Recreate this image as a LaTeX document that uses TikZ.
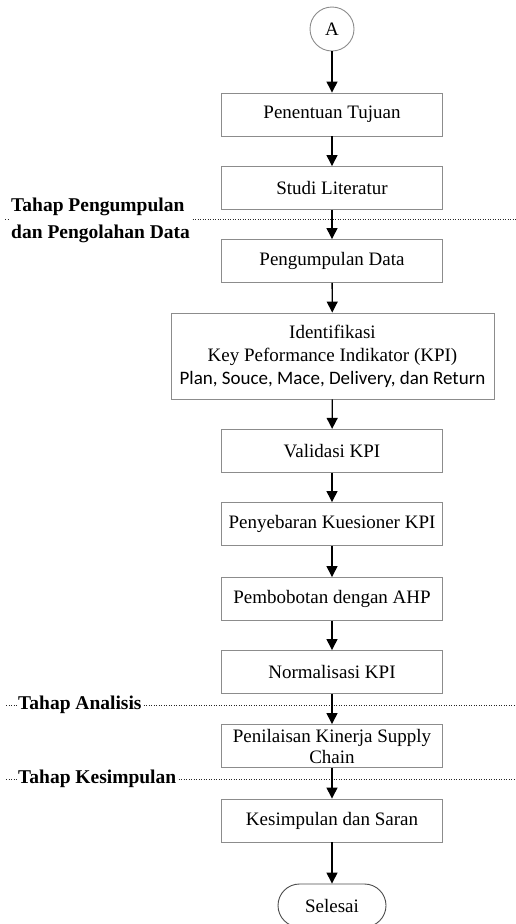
\documentclass[tikz,border=0pt]{standalone}
\usepackage{fontspec}
\setmainfont{Liberation Serif}
\newfontfamily\calib{Carlito}
\usetikzlibrary{arrows.meta,shapes.misc}
\begin{document}
\begin{tikzpicture}[x=1pt,y=-1pt,
  every node/.style={font=\fontsize{19}{21}\selectfont},
  procbox/.style={draw=black!45,line width=0.9pt,minimum width=221pt,minimum height=43pt,align=center,inner sep=2pt},
  flowarrow/.style={line width=1.3pt,-{Triangle[length=11pt,width=11pt]}},
  phaseline/.style={black!85,line width=0.9pt,dash pattern=on 1pt off 1.5pt},
  phaselabel/.style={anchor=west,fill=white,inner sep=1pt,align=left,font=\fontsize{19.5}{27}\selectfont\bfseries}]
\useasboundingbox (0,0) rectangle (516,924);
\clip (0,0) rectangle (516,924);
% phase lines
\coordinate (l1a) at (5,219); \coordinate (l1b) at (516,219);
\coordinate (l2a) at (6,705); \coordinate (l2b) at (516,705);
\coordinate (l3a) at (6,779); \coordinate (l3b) at (516,779);
\draw[phaseline] (l1a) -- (l1b);
\draw[phaseline] (l2a) -- (l2b);
\draw[phaseline] (l3a) -- (l3b);
\node[phaselabel] (p1) at (10,220) {Tahap Pengumpulan\\dan Pengolahan Data};
\node[phaselabel] (p2) at (17,705) {Tahap Analisis};
\node[phaselabel] (p3) at (17,779) {Tahap Kesimpulan};
% nodes
\node[circle,draw=black!45,line width=0.9pt,minimum size=44pt,inner sep=0pt] (a) at (332,29) {A};
\node[procbox] (n1) at (332,114.5) {Penentuan Tujuan};
\node[procbox] (n2) at (332,188) {Studi Literatur};
\node[procbox] (n3) at (332,261) {Pengumpulan Data};
\node[procbox,minimum width=323pt,minimum height=86pt,font=\fontsize{19}{23}\selectfont] (n4) at (332.5,356) {Identifikasi\\Key Peformance Indikator (KPI)\\{\calib Plan, Souce, Mace, Delivery, dan Return}};
\node[procbox] (n5) at (332,450.8) {Validasi KPI};
\node[procbox] (n6) at (332,524) {Penyebaran Kuesioner KPI};
\node[procbox] (n7) at (332,599) {Pembobotan dengan AHP};
\node[procbox] (n8) at (332,672) {Normalisasi KPI};
\node[procbox] (n9) at (332,746) {Penilaisan Kinerja Supply\\Chain};
\node[procbox] (n10) at (332,820.5) {Kesimpulan dan Saran};
\node[rounded rectangle,draw=black!70,line width=0.9pt,minimum width=112pt,minimum height=43pt,inner sep=2pt] (end) at (332,905.5) {Selesai};
% arrows
\draw[flowarrow] (a) -- (n1);
\draw[flowarrow] (n1) -- (n2);
\draw[flowarrow] (n2) -- (n3);
\draw[flowarrow] (n3) -- (n4);
\draw[flowarrow] (n4) -- (n5);
\draw[flowarrow] (n5) -- (n6);
\draw[flowarrow] (n6) -- (n7);
\draw[flowarrow] (n7) -- (n8);
\draw[flowarrow] (n8) -- (n9);
\draw[flowarrow] (n9) -- (n10);
\draw[flowarrow] (n10) -- (end);
\end{tikzpicture}
\end{document}
